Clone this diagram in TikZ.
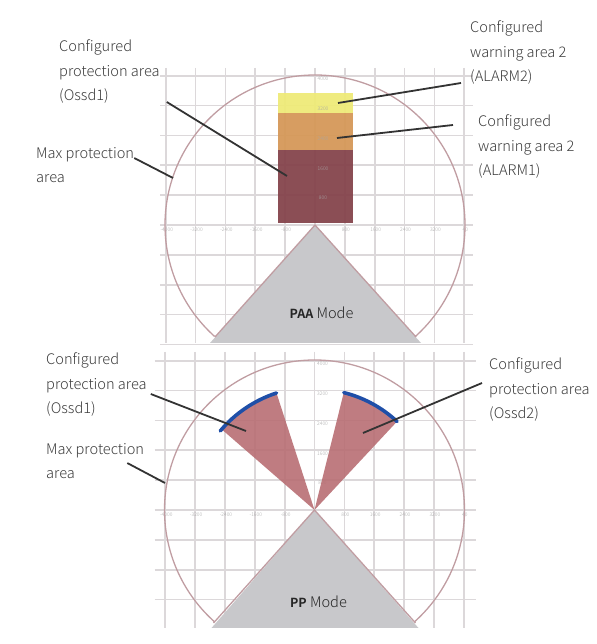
\documentclass[tikz,border=0pt]{standalone}
\usepackage{fontspec}
\setmainfont{Noto Sans CJK SC}[UprightFont=* Light, BoldFont=* Bold]
\usetikzlibrary{calc}
\usetikzlibrary{positioning}

\definecolor{gridgray}{HTML}{DCD8DA}
\definecolor{rimrose}{HTML}{C09DA2}
\definecolor{headgray}{HTML}{C8C8CB}
\definecolor{warnyellow}{HTML}{EEEA78}
\definecolor{warnorange}{HTML}{D59858}
\definecolor{protdark}{HTML}{85444C}
\definecolor{protrose}{HTML}{B86E73}
\definecolor{ossdblue}{HTML}{1F4FA8}
\definecolor{leadgray}{HTML}{333333}
\definecolor{textgray}{HTML}{3C3C3C}

\tikzset{
    gridline/.style={gridgray, line width=1.7pt},
    rimline/.style={rimrose, line width=1.3pt},
    leader/.style={leadgray, line width=1.8pt},
    arealabel/.style={align=left, inner sep=0pt, anchor=north west, text=textgray,
        font=\fontsize{14.6}{24.5}\selectfont},
    modelabel/.style={inner sep=0pt, text=black!85, font=\fontsize{14.6}{18}\selectfont},
    ticklabel/.style={inner sep=0pt, text=black!35, font=\fontsize{5}{6}\selectfont}
}

\begin{document}
\begin{tikzpicture}[x=1pt, y=1pt]
    \useasboundingbox (0,0) rectangle (596,644);

    % Constants
    \pgfmathsetmacro{\R}{150}
    \pgfmathsetmacro{\step}{29.85}

    % ---- PAA panel ----
    \begin{scope}[shift={(315,419)}]
        % Grid
        \foreach \k in {-5,...,5} {
            \draw [gridline] (\k*\step,157) -- (\k*\step,-118);
        }
        \foreach \k in {-4,...,5} {
            \draw [gridline] (-155,\k*\step) -- (158,\k*\step);
        }

        % Ticks
        \foreach \val/\k in {-4000/-5,-3200/-4,-2400/-3,-1600/-2,-800/-1,800/1,1600/2,2400/3,3200/4,40/5} {
            \node [ticklabel] at (\k*\step+1,-5) {\val};
        }

        % Areas
        \fill [warnyellow, fill opacity=0.95] (-37,132) rectangle (38,112);
        \fill [warnorange, fill opacity=0.95] (-37,112) rectangle (38,75);
        \fill [protdark, fill opacity=0.95] (-37,75) rectangle (38,2);
        \foreach \val/\k in {800/1,1600/2,2400/3,3200/4,4000/5} {
            \node [ticklabel] at (8,\k*\step-3) {\val};
        }

        % Max range and sensor head
        \draw [rimline] (228:\R) arc[radius=\R, start angle=228, end angle=-48];
        \fill [headgray] (0,0) -- (-105,-118) -- (106,-118) -- cycle;
        \draw [rimline] (-100,-112) -- (0,0) -- (101,-112);

        % Leader ends
        \coordinate (paaOssd) at (-28,49);
        \coordinate (paaMax) at (-142,47);
        \coordinate (paaAlarmB) at (23,122);
        \coordinate (paaAlarmA) at (22,87);
    \end{scope}

    % ---- PP panel ----
    \begin{scope}[shift={(314.5,134)}]
        % Grid
        \foreach \k in {-5,...,5} {
            \draw [gridline] (\k*\step,158) -- (\k*\step,-118);
        }
        \foreach \k in {-3,...,5} {
            \draw [gridline] (-160,\k*\step) -- (161,\k*\step);
        }

        % Ticks
        \foreach \val/\k in {-4000/-5,-3200/-4,-2400/-3,-1600/-2,-800/-1,800/1,1600/2,2400/3,3200/4,40/5} {
            \node [ticklabel] at (\k*\step+1,-5) {\val};
        }
        \foreach \val/\k in {800/1,1600/2,2400/3,3200/4,4000/5} {
            \node [ticklabel] at (8,\k*\step-3) {\val};
        }

        % Protection sectors
        \fill [protrose, fill opacity=0.9] (0,0) -- (139:122) arc[radius=122, start angle=139, end angle=108] -- cycle;
        \fill [protrose, fill opacity=0.9] (0,0) -- (76:120) arc[radius=120, start angle=76, end angle=47] -- cycle;
        \draw [ossdblue, line width=3.6pt, line cap=round] (140:123) arc[radius=123, start angle=140, end angle=108];
        \draw [ossdblue, line width=3.6pt, line cap=round] (76:121) arc[radius=121, start angle=76, end angle=47];

        % Max range and sensor head
        \draw [rimline] (228:\R) arc[radius=\R, start angle=228, end angle=-48];
        \fill [headgray] (0,0) -- (-103,-118) -- (104,-118) -- cycle;
        \draw [rimline] (-101,-113) -- (0,0) -- (101,-113);

        % Leader ends
        \coordinate (ppOssdA) at (-68.5,79);
        \coordinate (ppOssdB) at (48.5,77);
        \coordinate (ppMax) at (-149.5,27);
    \end{scope}

    % Labels
    \node [arealabel] (lblPaaOssd) at (59,604) {Configured\\protection area\\(Ossd1)};
    \node [arealabel] (lblPaaMax) at (36,497) {Max protection\\area};
    \node [arealabel] (lblPaaAlarmB) at (470,623) {Configured\\warning area 2\\(ALARM2)};
    \node [arealabel] (lblPaaAlarmA) at (478,529) {Configured\\warning area 2\\(ALARM1)};
    \node [arealabel] (lblPpOssdA) at (46,291) {Configured\\protection area\\(Ossd1)};
    \node [arealabel] (lblPpMax) at (46,201) {Max protection\\area};
    \node [arealabel] (lblPpOssdB) at (489,286) {Configured\\protection area\\(Ossd2)};

    \node [modelabel] (lblPaaMode) at (321.5,331) {{\fontsize{12.5}{18}\selectfont\textbf{PAA}} Mode};
    \node [modelabel] (lblPpMode) at (318.5,42) {{\fontsize{12.5}{18}\selectfont\textbf{PP}} Mode};

    % Leaders
    \draw [leader] ([shift={(7,2)}]lblPaaOssd.south east) -- (paaOssd);
    \draw [leader] ([shift={(0,7)}]lblPaaMax.east) -- (paaMax);
    \draw [leader] ([shift={(-9,-30)}]lblPaaAlarmB.west) -- (paaAlarmB);
    \draw [leader] ([shift={(-25,22)}]lblPaaAlarmA.west) -- (paaAlarmA);
    \draw [leader] ([shift={(4,-9)}]lblPpOssdA.east) -- (ppOssdA);
    \draw [leader] ([shift={(-17,-2)}]lblPpMax.east) -- (ppMax);
    \draw [leader] ([shift={(-7,7)}]lblPpOssdB.west) -- (ppOssdB);
\end{tikzpicture}
\end{document}
